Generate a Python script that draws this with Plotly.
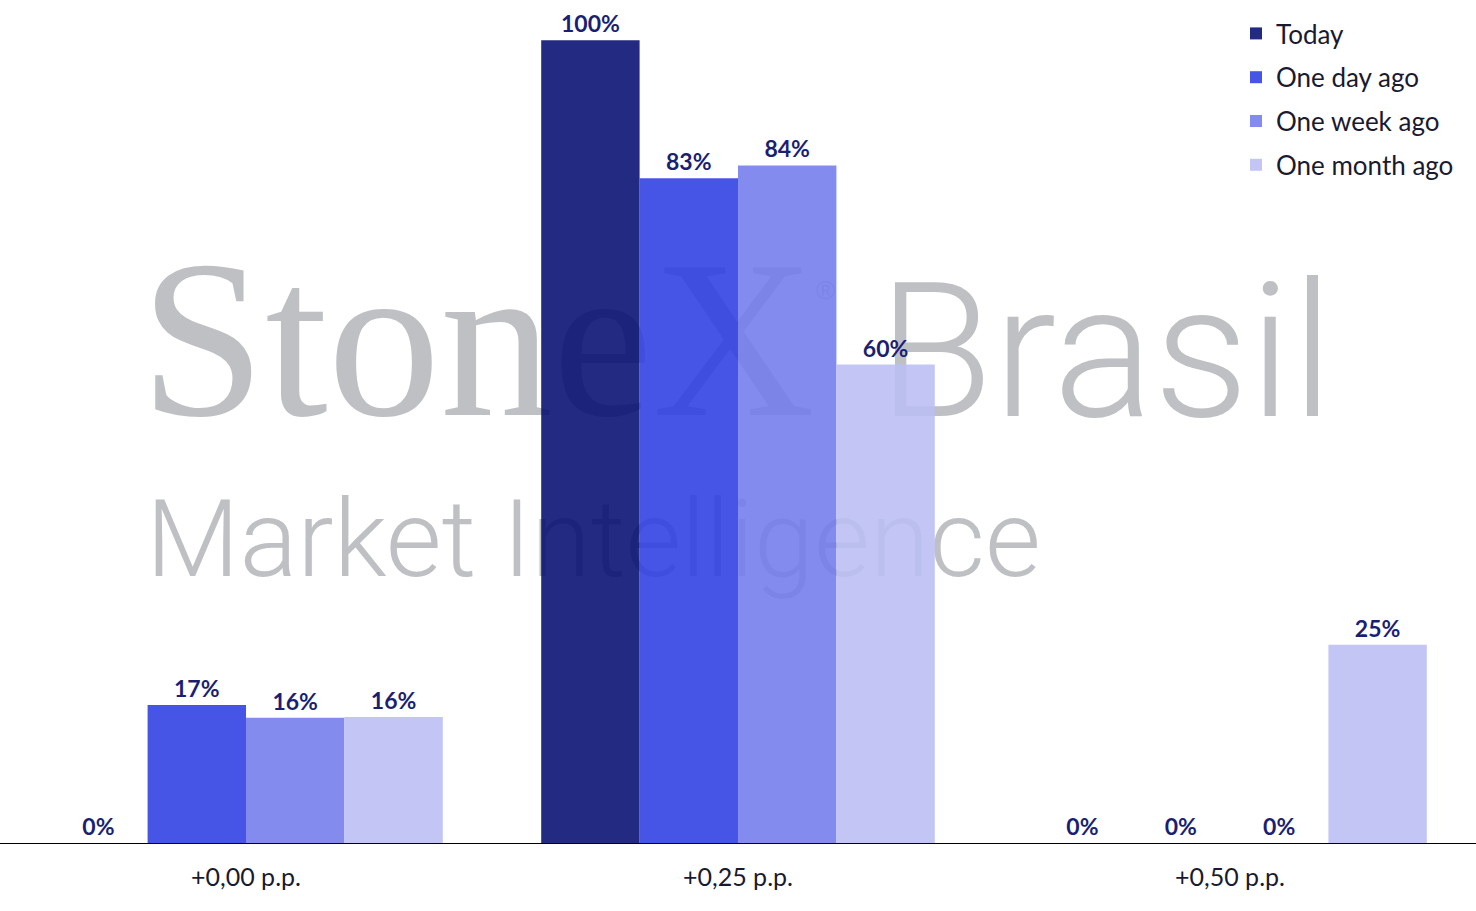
import plotly.graph_objects as go

categories = ["+0,00 p.p.", "+0,25 p.p.", "+0,50 p.p."]
series_names = ["Today", "One day ago", "One week ago", "One month ago"]
today = [0, 100, 0]
one_day_ago = [17.2, 82.8, 0]
one_week_ago = [15.6, 84.4, 0]
one_month_ago = [15.7, 59.6, 24.7]
# translucent colours: over white they give #232A80, #4755E6, #848BEE, #C3C6F5
colors = ["rgba(5,13,111,0.88)", "rgba(46,62,227,0.88)",
          "rgba(115,123,236,0.88)", "rgba(187,190,244,0.88)"]

series_values = [today, one_day_ago, one_week_ago, one_month_ago]

# watermark (drawn on a background layer behind the bars)
wm_texts = ["StoneX", "®", "Brasil", "Market Intelligence"]
wm_x = [140, 816, 878, 146]
wm_y = [359, 292, 369, 549]
wm_fonts = [
    dict(family="Liberation Serif", size=225, color="#BFC0C4"),
    dict(family="Liberation Sans", size=26, color="#BFC0C4"),
    dict(family="Roboto", size=188, color="#BFC0C4", weight=300),
    dict(family="Roboto", size=108, color="#BFC0C4", weight=300),
]

fig = go.Figure()
for t, x, y, f in zip(wm_texts, wm_x, wm_y, wm_fonts):
    fig.add_trace(go.Scatter(
        x=[x], y=[y], text=[t], mode="text", textposition="middle right",
        textfont=f, showlegend=False, hoverinfo="skip", cliponaxis=False,
        xaxis="x", yaxis="y",
    ))

for i, (name, vals) in enumerate(zip(series_names, series_values)):
    fig.add_trace(go.Bar(
        x=categories, y=vals, name=name,
        marker=dict(color=colors[i], line=dict(width=0)),
        texttemplate="%{y:.0f}%", textposition="outside",
        textfont=dict(family="Lato", size=23, color="#1B1F73", weight="bold"),
        cliponaxis=False, legendgroup=name,
        xaxis="x2", yaxis="y2",
    ))

fig.update_layout(
    width=1476, height=911,
    margin=dict(l=0, r=0, t=0, b=68),
    paper_bgcolor="white", plot_bgcolor="white",
    barmode="group", bargap=0.2, bargroupgap=0,
    showlegend=True,
    legend=dict(x=1236/1476, y=1 - 10/843, xanchor="left", yanchor="top",
                font=dict(family="Lato", size=26, color="#1A1A2E"),
                tracegroupgap=7, bgcolor="rgba(0,0,0,0)"),
    xaxis=dict(range=[0, 1476], visible=False, showgrid=False, zeroline=False, fixedrange=True),
    yaxis=dict(range=[843, 0], visible=False, showgrid=False, zeroline=False, fixedrange=True),
    xaxis2=dict(overlaying="x", anchor="y2", side="bottom",
                showline=True, linecolor="black", linewidth=1, ticks="",
                tickfont=dict(family="Lato", size=25, color="#1A1A2E"),
                ticklabelstandoff=12,
                showgrid=False, zeroline=False),
    yaxis2=dict(overlaying="y", anchor="x2", range=[0, 105], visible=False,
                showgrid=False, zeroline=False),
    font=dict(family="Lato"),
)

fig.write_html(
    "out.html",
    config={"displayModeBar": False},
    post_script="document.body.style.margin='0';document.body.style.overflow='hidden';",
)
